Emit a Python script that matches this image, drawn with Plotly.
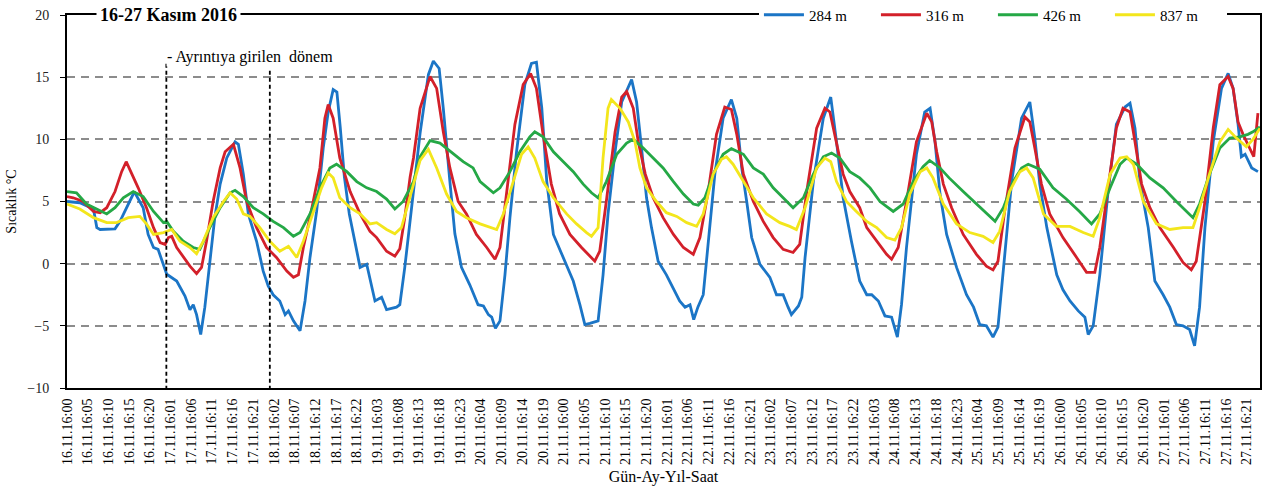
import plotly.graph_objects as go

# ---------------- data (hours since 16.11.2016 00:00, temperature °C) ----------------
series_names = ["284 m", "316 m", "426 m", "837 m"]
series_colors = ["#1b75c6", "#d3202a", "#25a846", "#f3e61c"]

h_284 = [0,3.1,6.4,7.2,8,11.6,12.8,16,16.4,18.4,19.6,20.9,22,23.3,24.1,26.5,28.5,29.7,30.5,31.3,32.3,33.3,34.5,35.7,37,38.6,40.6,41.4,42.6,43.8,45.8,47.4,48.6,49.8,51.4,52.7,53.5,54.7,56.3,57.5,58.7,60.3,61.9,63.1,64.3,65.2,66,67,68.2,69.2,70.8,72.4,74.4,76,77.2,79.6,80.4,81.6,82.9,84,85.3,87.3,88.5,89.9,90.9,92.5,93.7,95.3,97.3,99.3,100.6,101.8,102.6,103.5,104.6,105.8,107,108.6,110.6,112.2,113.4,114.7,115.9,117.5,119.9,122.3,123.9,125.1,126.3,128.3,129.5,130.7,132.4,134,136.4,137.6,138.8,140,141.2,142.8,144.8,146.4,148,149.3,150.5,151.4,152.4,153.7,154.9,156.5,158.5,160.5,161.8,163,164.2,165.4,167.4,169.8,171.4,173,174.2,175,176.7,177.5,178.3,180.3,182.7,184.5,185.9,187.5,189.5,191.5,193.2,194.4,196,197.6,199.2,200.6,201.6,202.8,205.2,207.2,208.5,209.7,210.9,212.5,214.9,217.3,219,220.5,222.1,223.7,224.9,226.2,228.2,230.6,232.6,233.8,235,236.7,239.1,240.6,242.3,244.3,245.9,246.7,247.9,249.5,251.5,253.5,255.6,256.8,258,259.2,261.2,262.8,264.8,266.4,268,269.6,271.2,272.4,273.6,274.9,276.9,278.9,280.5,281.7,282.9,283.7,284.6,286.2,287.7]
t_284 = [5.0,4.9,4.4,2.9,2.75,2.8,3.4,5.6,5.7,4.5,2.35,1.3,1.15,-0.2,-0.85,-1.4,-2.6,-3.7,-3.3,-4.1,-5.7,-3.5,0.2,3.7,6.4,8.5,9.8,9.6,7.2,4.0,1.8,-0.6,-1.8,-2.5,-3.0,-4.1,-3.8,-4.6,-5.4,-3.0,0.5,4.2,9.3,12.2,14.0,13.8,11.0,7.0,4.0,2.35,-0.3,-0.05,-3.0,-2.7,-3.7,-3.5,-3.3,-0.3,3.5,6.5,10.5,15.2,16.3,15.7,12.5,6.6,2.4,-0.3,-1.7,-3.3,-3.4,-4.1,-4.3,-5.2,-4.6,-0.9,3.7,9.0,14.4,16.1,16.2,12.5,6.6,2.35,0.5,-1.4,-3.3,-4.9,-4.8,-4.6,-0.9,4.0,9.0,13.0,14.8,13.0,9.3,5.3,2.9,0.2,-0.9,-1.9,-3.0,-3.5,-3.3,-4.5,-3.5,-2.5,1.8,7.2,11.7,13.2,11.7,7.7,5.0,2.1,-0.05,-1.1,-2.5,-2.5,-3.5,-4.1,-3.4,-2.7,0.5,6.6,11.7,13.4,9.8,5.3,1.8,-1.4,-2.5,-2.5,-3.0,-4.2,-4.3,-5.9,-3.3,1.3,8.8,12.2,12.5,9.8,5.6,2.35,-0.3,-2.5,-3.5,-4.9,-5.0,-5.9,-5.1,-0.3,6.6,11.7,13.0,10.1,6.4,2.9,-0.9,-2.1,-3.0,-3.8,-4.3,-5.7,-5.0,-0.9,5.8,11.2,12.6,12.9,10.9,6.6,2.9,-1.4,-2.5,-3.5,-4.9,-5.0,-5.3,-6.6,-3.5,2.9,9.8,14.1,15.3,14.1,11.2,8.6,8.8,7.7,7.4]

h_316 = [0,1.5,3.9,6.4,8,9.6,11.6,13.2,14.3,15.6,17.2,19.2,20.9,22.5,23.7,24.5,25.3,26.5,28.1,29.7,31.3,32.5,33.7,35.3,37,38.2,40.2,41.8,43.4,45.8,48.2,50.6,53.1,54.7,55.9,57.1,58.7,61.1,62.3,63.1,64.3,65.9,68.4,70.8,73.2,74.8,77.2,79.2,80.4,81.6,82.9,83.7,85.3,87.7,89.3,90.9,92.5,94.5,96.5,98.9,101.4,103.4,104.6,106.2,108.2,110.2,112,113.4,115,117,119,121.5,124.3,127.5,128.7,130.4,132.4,134,135.2,136.8,138,139.7,141.6,144,146.5,148.9,151.3,152.9,154.9,156.9,158.9,160.5,161.8,163.4,165.8,168.2,170.6,173,175.4,177,178.7,181.1,183.1,184.3,185.9,187.5,189.1,191.5,193.2,195.6,198,199.2,200.8,202.8,205.2,207.7,208.9,210.1,211.7,213.7,216.5,219.7,222.1,223.7,224.9,226.5,229,231.4,232.6,233.8,235.4,237.4,240.6,243.9,246.3,248.3,249.5,251.5,253.5,255.1,256.8,258,259.6,261.6,264,267.3,269.6,271.6,272.8,274.9,276.9,278.5,280.5,281.7,282.9,284.1,285.7,286.7,287.7]
t_316 = [5.4,5.3,5.0,4.2,4.1,4.5,5.8,7.4,8.2,7.3,6.1,4.5,2.9,1.7,1.55,2.1,2.2,1.3,0.5,-0.2,-0.8,-0.3,1.8,5.0,7.7,9.0,9.6,7.7,5.0,2.9,1.3,0.5,-0.6,-1.1,-0.9,1.3,3.7,7.7,11.7,12.8,11.7,8.5,5.8,4.0,2.6,2.1,1.0,0.6,1.2,3.7,7.0,8.5,12.5,15.05,14.1,10.6,7.7,5.0,4.0,2.35,1.3,0.35,1.3,5.8,11.2,14.4,15.3,14.1,10.4,6.4,4.0,2.35,1.3,0.2,1.0,5.3,10.6,13.4,13.85,12.5,9.8,7.2,5.3,3.7,2.35,1.3,0.75,2.1,5.8,10.4,12.6,12.4,10.4,7.2,5.0,3.4,2.1,1.15,0.9,1.55,5.8,10.9,12.5,12.2,9.8,7.2,5.8,4.5,2.9,1.8,0.75,0.35,1.3,5.0,9.8,12.1,11.4,9.0,6.4,4.5,2.35,0.75,-0.2,-0.5,0.2,4.2,9.3,11.8,11.4,9.3,6.4,4.0,2.1,0.5,-0.7,-0.7,1.3,6.1,10.9,12.5,12.2,9.8,6.4,4.5,2.9,1.3,0.1,-0.5,0.2,5.0,10.9,14.4,15.05,14.1,11.4,10.4,9.3,8.6,12.1]

h_426 = [0,2.3,4.7,7.2,9.6,11.6,13.6,16,18.4,20.9,23.3,24.1,25.7,28.1,30.5,32.1,34.5,37,39.4,40.6,42.6,45,47.4,49.8,52.3,54.7,56.3,58.7,61.1,63.5,65.1,67.6,70,72.4,74.8,77.2,79.2,81.2,83.7,85.3,87.7,90.1,93.3,95.7,98.1,99.8,103,104.6,107,109.4,111.8,113,115,117.5,119.9,122.3,124.7,126.7,128.3,130.3,132.8,135.2,136.8,139.2,141.6,144,146.5,148.9,151.3,152.5,154.1,156.1,158.5,160.5,163.4,165.8,168.2,170.6,173,175.4,177.9,180.3,182.7,184.7,186.7,189.1,191.5,194,196.4,199.6,202,204.4,206.8,208.4,210.9,213.1,216.5,219.7,222.1,224.2,226.2,228.6,230.6,232.2,235,238.2,241.4,244.6,247.5,249.5,252,254.4,256,258.4,261.6,264.8,268,270.4,272,273.6,276,278.5,280.9,283.3,285.3,286.5,288.2]
t_426 = [5.8,5.7,4.8,4.4,4.0,4.5,5.3,5.8,5.4,4.2,3.3,3.4,2.6,1.8,1.3,1.15,2.9,4.5,5.7,5.9,5.4,4.5,4.0,3.4,2.9,2.2,2.5,4.0,6.1,7.7,8.0,7.4,6.6,6.1,5.8,5.2,4.4,5.0,6.6,8.6,9.9,9.7,8.8,8.2,7.7,6.6,5.7,6.1,7.4,9.0,10.2,10.6,10.2,9.0,8.2,7.4,6.4,5.7,5.3,6.6,8.8,9.7,10.0,9.3,8.5,7.7,6.6,5.6,4.8,4.7,5.3,7.2,8.8,9.25,8.8,7.7,7.2,6.1,5.3,4.5,5.3,7.2,8.6,8.9,8.5,7.4,6.9,6.1,5.0,4.2,4.8,6.6,7.8,8.3,7.7,6.9,5.8,4.8,4.0,3.4,4.5,6.6,7.7,8.0,7.6,6.1,5.2,4.2,3.2,4.0,6.1,8.0,8.5,8.0,6.9,6.1,5.0,4.2,3.7,4.8,7.2,9.3,10.1,10.2,10.4,10.6,11.0]

h_837 = [0,3.1,6.4,9.6,12,14.8,17.6,19.2,20.9,23.3,25.3,27.3,29.7,31.3,32.9,35.3,37.8,39.4,41,42.6,44.2,46.6,49,51.4,53.5,55.5,57.1,59.5,61.5,63.1,64.3,65.9,68.4,70.8,73.2,74.8,77.2,79.2,80.8,82.8,85.3,87.3,89.3,91.7,94.1,96.5,99.8,103.8,105.4,107.8,109.8,111.4,113,115,117.5,120.7,123.1,125.5,126.7,128.3,129.5,130.7,131.5,133.6,135.6,137.2,138.4,140,142.4,144.8,147.3,149.7,152.1,153.7,156.1,158.1,159.3,160.9,163.4,165.8,169,172.2,174.6,176.2,178.3,181.1,183.1,184.5,185.9,188.3,190.7,193.2,195.6,198,200,201.6,203.6,206.1,207.7,209.2,211.7,214.9,218.1,221.3,223.7,225.3,227.7,230.2,231.8,233.4,235.9,239,242.3,245.5,247.9,249.5,252,254.4,256,257.6,260,263.2,266.4,269.6,272,273.6,276,278.5,280.5,282.5,284.9,286.5,288.2]
t_837 = [4.8,4.4,3.7,3.3,3.3,3.7,3.8,3.2,2.35,2.5,2.75,1.8,1.3,0.8,1.8,3.7,5.0,5.7,5.2,4.0,3.8,2.9,1.8,1.0,1.4,0.5,1.8,4.2,6.1,7.3,6.9,5.3,4.5,4.0,3.2,3.3,2.75,2.4,2.9,5.3,8.3,9.2,7.7,5.6,4.2,3.7,3.2,2.75,4.0,6.6,8.8,9.4,8.5,6.6,5.3,4.0,3.2,2.5,2.2,2.9,8.5,12.5,13.2,12.5,11.4,9.8,7.7,6.1,5.0,4.1,3.8,3.3,3.0,4.0,7.2,8.4,8.6,8.0,6.6,5.3,4.0,3.3,3.0,2.75,4.5,7.7,8.5,8.2,6.6,5.0,4.2,3.4,2.9,2.1,1.9,2.9,5.6,7.4,7.7,6.9,4.8,3.2,2.5,2.2,1.7,2.6,5.8,7.4,7.7,6.9,4.0,3.0,3.0,2.5,2.2,3.7,7.2,8.5,8.6,8.0,5.0,3.2,2.75,2.9,2.9,4.5,7.2,9.8,10.8,10.1,9.4,10.0,10.9]

# x-axis tick labels every 5 hours: dd.mm.yy:hh
tick_hours = list(range(0, 286, 5))
tick_labels = [f"{16 + h // 24}.11.16:{h % 24:02d}" for h in tick_hours]

# highlighted period (hours) and its label
box_start, box_end = 24, 49
box_label = "- Ayrıntıya girilen  dönem"
chart_title = "16-27 Kasım 2016"

SERIF = "Liberation Serif, Times New Roman, serif"

fig = go.Figure()
for name, color, hx, ty in zip(series_names, series_colors,
                               [h_284, h_316, h_426, h_837],
                               [t_284, t_316, t_426, t_837]):
    fig.add_trace(go.Scatter(x=hx, y=ty, mode="lines", name=name,
                             line=dict(color=color, width=2.8)))

# dashed highlight box (left, right, bottom edges)
box_line = dict(color="black", width=1.8, dash="4px,3px")
fig.add_shape(type="line", x0=box_start, x1=box_start, y0=-10.15, y1=16.3,
              xref="x", yref="y", line=box_line, layer="above")
fig.add_shape(type="line", x0=box_end, x1=box_end, y0=-10.15, y1=15.6,
              xref="x", yref="y", line=box_line, layer="above")
fig.add_shape(type="line", x0=box_start, x1=box_end, y0=-10.15, y1=-10.15,
              xref="x", yref="y", line=box_line, layer="above")
fig.add_annotation(x=box_start, y=16.6, xref="x", yref="y", text=box_label,
                   showarrow=False, xanchor="left", yanchor="middle",
                   font=dict(family=SERIF, size=16, color="black"),
                   bgcolor="white", borderpad=0)

# title sitting on the top frame line
fig.add_annotation(x=0.024, y=1.0, xref="paper", yref="paper",
                   text=f"<b>{chart_title}</b>", showarrow=False,
                   xanchor="left", yanchor="middle",
                   font=dict(family=SERIF, size=18, color="black"),
                   bgcolor="white", borderpad=3)

fig.update_layout(
    width=1264, height=486,
    margin=dict(l=67, r=4, t=15, b=98, autoexpand=False),
    paper_bgcolor="white", plot_bgcolor="white",
    font=dict(family=SERIF, color="black"),
    showlegend=True,
    legend=dict(orientation="h", x=0.58, y=1.0, xanchor="left", yanchor="middle",
                bgcolor="white", font=dict(family=SERIF, size=15, color="black"),
                entrywidth=62, entrywidthmode="pixels",
                tracegroupgap=0, itemwidth=40),
    xaxis=dict(range=[0, 288.2], tickmode="array", tickvals=tick_hours,
               ticktext=tick_labels, tickangle=-90,
               tickfont=dict(family=SERIF, size=14, color="black"),
               showgrid=False, zeroline=False,
               showline=True, linecolor="black", linewidth=2, mirror=True,
               ticks="", ticklabelstandoff=3,
               title=dict(text="Gün-Ay-Yıl-Saat", standoff=8,
                          font=dict(family=SERIF, size=16, color="black"))),
    yaxis=dict(range=[-10, 20], tickmode="linear", tick0=-10, dtick=5,
               tickfont=dict(family=SERIF, size=14, color="#222"),
               showgrid=True, gridcolor="#8c8c8c", griddash="8px,6px", gridwidth=1.5,
               zeroline=False,
               showline=True, linecolor="black", linewidth=2, mirror=True,
               ticks="outside", ticklen=5, tickcolor="black", ticklabelstandoff=8,
               title=dict(text="Sıcaklık °C", standoff=7,
                          font=dict(family=SERIF, size=14, color="black"))),
)

fig.write_html("out.html")
